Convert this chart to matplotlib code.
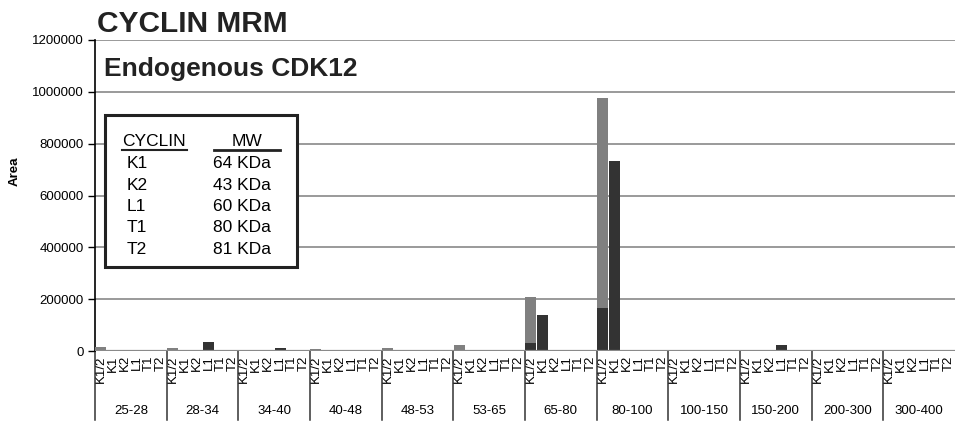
import matplotlib
matplotlib.use('Agg')
import matplotlib.pyplot as plt
from matplotlib.patches import Rectangle
from matplotlib.transforms import blended_transform_factory

# size-fraction groups (KDa) and the cyclin lanes within each group
groups = ['25-28', '28-34', '34-40', '40-48', '48-53', '53-65',
          '65-80', '80-100', '100-150', '150-200', '200-300', '300-400']
lanes = ['K1/2', 'K1', 'K2', 'L1', 'T1', 'T2']

# dark segment (bottom) per lane, one row per group
dark = [
    0, 0, 0, 0, 0, 0,
    0, 0, 0, 33000, 0, 0,
    0, 0, 0, 10000, 0, 0,
    0, 0, 0, 3000, 0, 0,
    0, 0, 0, 0, 0, 0,
    0, 0, 0, 0, 0, 0,
    30000, 140000, 0, 0, 0, 0,
    166000, 732000, 0, 0, 0, 0,
    0, 0, 0, 0, 0, 0,
    0, 0, 0, 22000, 0, 0,
    0, 0, 0, 0, 0, 0,
    0, 0, 0, 0, 0, 0,
]
# light segment stacked on top
light = [
    14000, 0, 0, 0, 0, 0,
    12000, 0, 0, 0, 0, 0,
    0, 0, 0, 0, 0, 0,
    9000, 0, 0, 0, 0, 0,
    13000, 0, 0, 0, 0, 0,
    22000, 0, 0, 0, 0, 0,
    180000, 0, 0, 0, 0, 0,
    811000, 0, 0, 0, 0, 0,
    0, 0, 0, 0, 0, 0,
    0, 0, 0, 0, 0, 0,
    0, 0, 0, 0, 0, 0,
    0, 0, 0, 0, 0, 0,
]

cyclins = ['K1', 'K2', 'L1', 'T1', 'T2']
mw = ['64 KDa', '43 KDa', '60 KDa', '80 KDa', '81 KDa']

plt.rcParams['font.family'] = ['Liberation Sans', 'DejaVu Sans']

W, H = 958, 429
fig = plt.figure(figsize=(W / 100, H / 100), dpi=100)


def fx(px):
    return px / W


def fy(py):
    return 1 - py / H


ax = fig.add_axes([fx(95), fy(351), fx(955) - fx(95), fy(40) - fy(351)])

n = len(groups) * len(lanes)
xs = list(range(n))
ax.bar(xs, dark, width=0.92, color='#333333', zorder=3)
ax.bar(xs, light, width=0.92, bottom=dark, color='#808080', zorder=3)

ax.set_xlim(-0.5, n - 0.5)
ax.set_ylim(0, 1200000)
ax.set_yticks(range(0, 1200001, 200000))
ax.set_yticklabels([str(v) for v in range(0, 1200001, 200000)], fontsize=9.5)
ax.tick_params(axis='y', length=5, width=1, direction='out', pad=3)
ax.yaxis.grid(True, color='#9a9a9a', linewidth=1.4, zorder=0)
ax.set_axisbelow(True)

ax.set_xticks(xs)
ax.set_xticklabels(lanes * len(groups), rotation=90, fontsize=9.5, va='top')
ax.tick_params(axis='x', length=0, pad=3)

for side in ['top', 'right', 'bottom']:
    ax.spines[side].set_visible(False)
ax.spines['left'].set_color('black')
ax.spines['left'].set_linewidth(1.2)
ax.axhline(0, color='#8a8a8a', linewidth=1.6, zorder=4)

# group separators and group names under the lane labels
tr = blended_transform_factory(ax.transData, fig.transFigure)
for i, g in enumerate(groups):
    left = i * len(lanes) - 0.5
    ax.plot([left, left], [fy(351), fy(420)], color='#333333', linewidth=1.1,
            transform=tr, clip_on=False)
    ax.text(left + len(lanes) / 2, fy(411), g, transform=tr, fontsize=9.5,
            ha='center', va='center')

fig.text(fx(15), fy(171), 'Area', rotation=90, fontsize=9.5, fontweight='bold',
         ha='center', va='center')
fig.text(fx(97), fy(32), 'CYCLIN MRM', fontsize=21.5, fontweight='bold',
         color='#222222', va='baseline')
fig.text(fx(104), fy(76), 'Endogenous CDK12', fontsize=19, fontweight='bold',
         color='#222222', va='baseline')

# molecular weight table
ax.add_patch(Rectangle((fx(105), fy(267)), fx(297) - fx(105), fy(115) - fy(267),
                       transform=fig.transFigure, facecolor='white',
                       edgecolor='#222222', linewidth=2.2, zorder=6, clip_on=False))
fig.text(fx(122), fy(146), 'CYCLIN', fontsize=12.5, va='baseline', zorder=7)
fig.text(fx(247), fy(146), 'MW', fontsize=12.5, va='baseline', ha='center', zorder=7)
fig.add_artist(plt.Line2D([fx(122), fx(187)], [fy(150), fy(150)], color='#222222',
                          linewidth=1.5, zorder=7))
fig.add_artist(plt.Line2D([fx(214), fx(280)], [fy(150), fy(150)], color='#222222',
                          linewidth=2, zorder=7))
for k, (c, m) in enumerate(zip(cyclins, mw)):
    yb = 168 + k * 21.5
    fig.text(fx(127), fy(yb), c, fontsize=12.5, va='baseline', zorder=7)
    fig.text(fx(213), fy(yb), m, fontsize=12.5, va='baseline', zorder=7)

fig.savefig('out.png', dpi=100)
